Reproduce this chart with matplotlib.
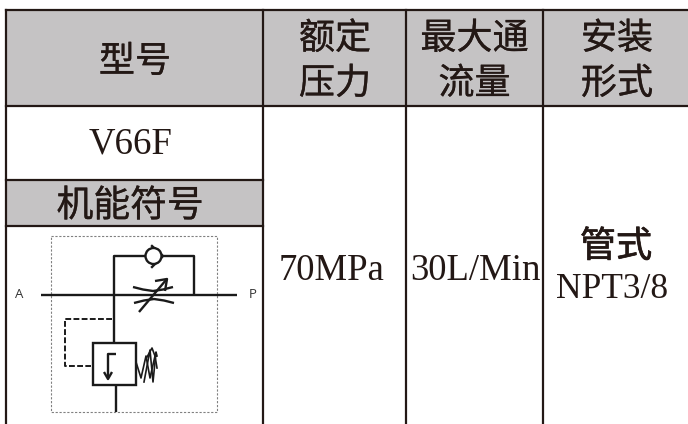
import matplotlib
matplotlib.use('Agg')
import matplotlib.pyplot as plt
import matplotlib.patheffects as pe
from matplotlib.patches import Rectangle, Circle

CJK = ['Noto Sans CJK SC', 'DejaVu Sans']
SERIF = 'Liberation Serif'
INK = '#231815'
GREY = '#c5c3c4'

# table contents
headers = ['型号', '额定\n压力', '最大通\n流量', '安装\n形式']
model = 'V66F'
symbol_title = '机能符号'
pressure = '70MPa'
flow = '30L/Min'
mount_cn = '管式'
mount_thread = 'NPT3/8'

# table grid, in pixels
col_x = [6, 263, 406, 543, 689]
row_y = [9.5, 105.5, 180, 226, 425]

fig = plt.figure(figsize=(6.88, 4.24), dpi=100)
ax = fig.add_axes([0, 0, 1, 1])
ax.set_xlim(0, 688)
ax.set_ylim(424, 0)
ax.axis('off')

# grey bands
ax.add_patch(Rectangle((col_x[0], row_y[0]), col_x[-1] - col_x[0], row_y[1] - row_y[0], fc=GREY, ec='none'))
ax.add_patch(Rectangle((col_x[0], row_y[2]), col_x[1] - col_x[0], row_y[3] - row_y[2], fc=GREY, ec='none'))

# grid lines
lw = 1.6
ax.plot([col_x[0], col_x[-1]], [row_y[0], row_y[0]], color=INK, lw=lw)
ax.plot([col_x[0], col_x[-1]], [row_y[1], row_y[1]], color=INK, lw=lw)
ax.plot([col_x[0], col_x[1]], [row_y[2], row_y[2]], color=INK, lw=lw)
ax.plot([col_x[0], col_x[1]], [row_y[3], row_y[3]], color=INK, lw=lw)
for x in col_x[:-1]:
    ax.plot([x, x], [row_y[0], row_y[-1]], color=INK, lw=lw)

# slightly heavier cjk strokes
fat = [pe.withStroke(linewidth=0.2, foreground=INK)]
fatter = [pe.withStroke(linewidth=0.5, foreground=INK)]

# header text
centers = [135, 335, 474.5, 617]
for cx, h in zip(centers, headers):
    lines = h.split('\n')
    if len(lines) == 1:
        ax.text(cx, 62, h, family=CJK, fontsize=26, color=INK, ha='center', va='center', path_effects=fat)
    else:
        ax.text(cx, 39, lines[0], family=CJK, fontsize=26, color=INK, ha='center', va='center', path_effects=fat)
        ax.text(cx, 84, lines[1], family=CJK, fontsize=26, color=INK, ha='center', va='center', path_effects=fat)

ax.text(130.5, 144, model, family=SERIF, fontsize=26.5, color=INK, ha='center', va='center')
ax.text(130, 206, symbol_title, family=CJK, fontsize=26.5, color=INK, ha='center', va='center', path_effects=fat)
ax.text(331.5, 271, pressure, family=SERIF, fontsize=26.5, color=INK, ha='center', va='center')
ax.text(475.5, 271, flow, family=SERIF, fontsize=26.5, color=INK, ha='center', va='center')
ax.text(616, 247, mount_cn, family=CJK, fontsize=26, color=INK, ha='center', va='center', path_effects=fatter)
ax.text(612, 289, mount_thread, family=SERIF, fontsize=25.5, color=INK, ha='center', va='center')

# hydraulic symbol, traced in pixels
dash_box_x = [50.5, 216.5, 216.5, 50.5, 50.5]
dash_box_y = [236, 236, 411.5, 411.5, 236]
main_x = [41, 236.5]
main_y = [295, 295]
bypass_x = [114, 114, 145.5]
bypass_y = [295, 256, 256]
bypass2_x = [161.5, 193.5, 193.5]
bypass2_y = [256, 256, 295]
check_x = [152, 163, 152]
check_y = [246, 256, 267]
stem_x = [114, 114]
stem_y = [295, 342.5]
tail_x = [115.5, 115.5]
tail_y = [385, 411.5]
pilot_x = [112, 65, 65, 91]
pilot_y = [319, 319, 365.5, 365.5]
arc1_x = [133, 143, 153, 163, 173]
arc1_y = [287, 289.5, 291, 289.5, 287]
arc2_x = [134, 144, 154, 164, 174]
arc2_y = [303, 300.5, 299, 300.5, 303]
needle_x = [139, 166]
needle_y = [312, 280]
needle_head_x = [155, 167, 165]
needle_head_y = [281, 279, 291]
flag_x = [116, 108, 108]
flag_y = [354, 354, 378]
flag_head_x = [104, 108, 112]
flag_head_y = [372, 379, 372]
spring1_x = [136, 141, 146, 150, 155, 157]
spring1_y = [362, 378, 356, 378, 356, 368]
spring2_x = [144, 150, 153, 156, 157]
spring2_y = [382, 350, 382, 352, 356]
spring_head_x = [147, 152, 155]
spring_head_y = [357, 348, 356]

ax.plot(dash_box_x, dash_box_y, color='#808080', lw=0.8, ls=(0, (2, 1.5)))
sym = dict(color='#1a1a1a', lw=1.7, solid_capstyle='butt')
for xs, ys in [(main_x, main_y), (bypass_x, bypass_y), (bypass2_x, bypass2_y), (stem_x, stem_y),
               (tail_x, tail_y), (arc1_x, arc1_y), (arc2_x, arc2_y),
               (needle_x, needle_y), (needle_head_x, needle_head_y), (flag_x, flag_y),
               (flag_head_x, flag_head_y)]:
    ax.plot(xs, ys, **sym)
for xs, ys in [(spring1_x, spring1_y), (spring2_x, spring2_y), (spring_head_x, spring_head_y)]:
    ax.plot(xs, ys, color='#1a1a1a', lw=1.2)
ax.plot(pilot_x, pilot_y, color='#1a1a1a', lw=1.4, ls=(0, (3, 1.2)))
ax.add_patch(Circle((153.5, 256), 8, fc='white', ec='#1a1a1a', lw=1.7, zorder=3))
ax.plot(check_x, check_y, color='#1a1a1a', lw=1.7, zorder=2)
ax.add_patch(Rectangle((93, 342.5), 43, 42.5, fc='none', ec='#1a1a1a', lw=1.7))

ax.text(19, 295, 'A', family='Open Sans', fontsize=9.5, color='#333333', ha='center', va='center')
ax.text(253, 295, 'P', family='Open Sans', fontsize=9.5, color='#333333', ha='center', va='center')

fig.savefig('out.png', dpi=100)
